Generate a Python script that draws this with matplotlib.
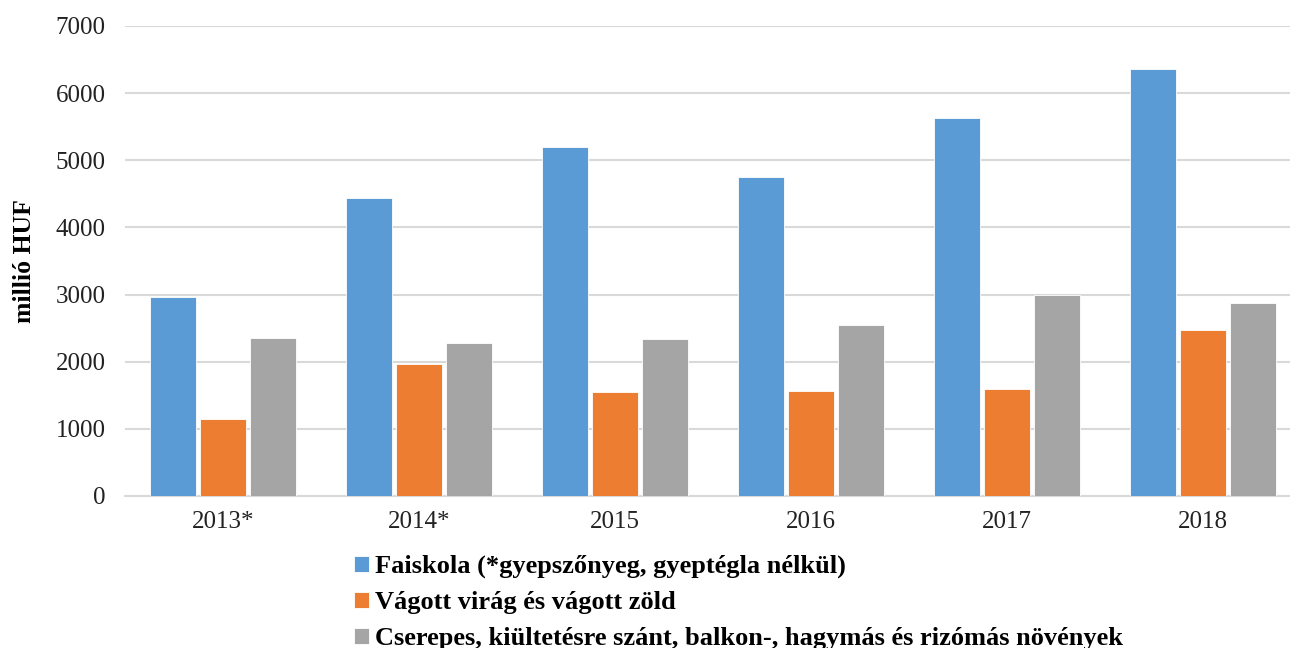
import matplotlib
matplotlib.use("Agg")
import matplotlib.pyplot as plt
import numpy as np

categories = ["2013*", "2014*", "2015", "2016", "2017", "2018"]
faiskola = [2965, 4445, 5200, 4755, 5635, 6365]
vagott = [1145, 1965, 1545, 1560, 1595, 2470]
cserepes = [2355, 2280, 2345, 2550, 3000, 2880]
series_labels = [
    "Faiskola (*gyepszőnyeg, gyeptégla nélkül)",
    "Vágott virág és vágott zöld",
    "Cserepes, kiültetésre szánt, balkon-, hagymás és rizómás növények",
]
colors = ["#5B9BD5", "#ED7D31", "#A5A5A5"]

plt.rcParams['font.family'] = ['Liberation Serif', 'DejaVu Serif']

fig = plt.figure(figsize=(12.9, 6.48), dpi=100)
ax = fig.add_axes([125/1290, 1-496/648, 1176/1290, (496-26)/648])

x = np.arange(len(categories))
w = 0.235
step = 0.256
for i, (vals, c, lab) in enumerate(zip([faiskola, vagott, cserepes], colors, series_labels)):
    ax.bar(x + (i-1)*step, vals, width=w, color=c, label=lab, edgecolor='white', linewidth=0.6, zorder=3)

ax.set_xlim(-0.5, len(categories)-0.5)
ax.set_ylim(0, 7000)
ax.set_yticks(range(0, 7001, 1000))
ax.yaxis.grid(True, color='#D9D9D9', linewidth=1.5, zorder=0)
ax.set_axisbelow(True)
for s in ['top', 'right', 'left']:
    ax.spines[s].set_visible(False)
ax.spines['bottom'].set_color('#D9D9D9')
ax.spines['bottom'].set_linewidth(1.5)
ax.tick_params(axis='both', length=0, labelsize=18, colors='#222222')
ax.tick_params(axis='y', pad=14)
ax.tick_params(axis='x', pad=11)
ax.set_xticks(x)
ax.set_xticklabels(categories)
ax.set_ylabel("millió HUF", fontsize=18.5, fontweight='bold', labelpad=14)

handles, labels = ax.get_legend_handles_labels()
leg = fig.legend(handles, labels, loc='upper left', bbox_to_anchor=(354/1290, 1-555/648),
                 frameon=False, prop={'size': 19, 'weight': 'bold'},
                 handlelength=0.55, handleheight=0.55, handletextpad=0.25, labelspacing=0.49,
                 borderaxespad=0, borderpad=0)

fig.savefig("out.png", dpi=100)
